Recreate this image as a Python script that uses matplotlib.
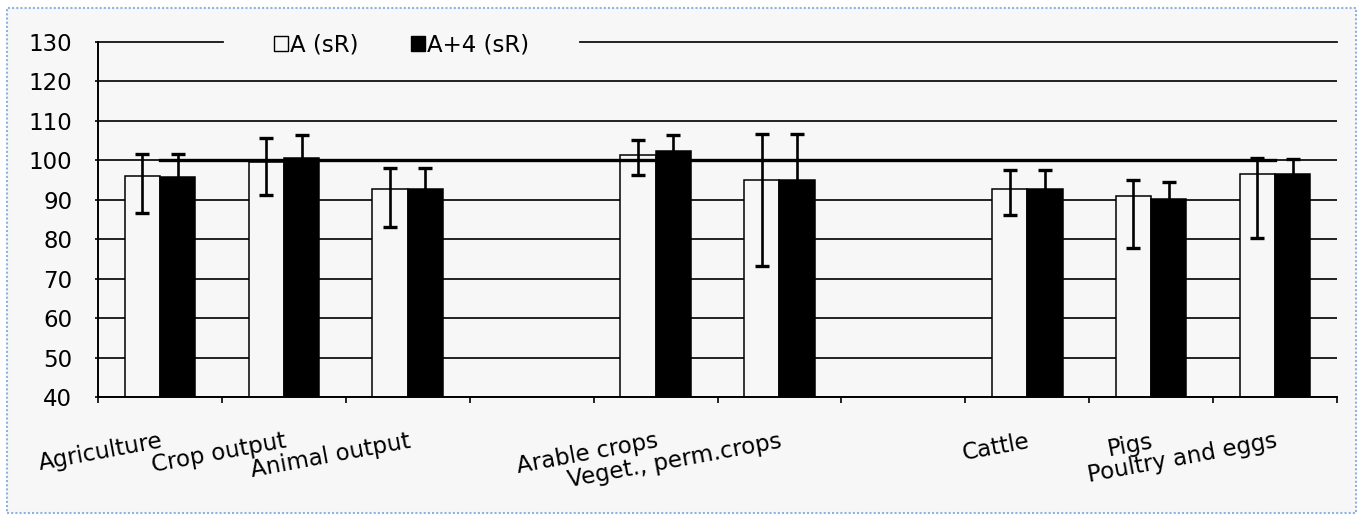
import numpy as np
import matplotlib
matplotlib.use("Agg")
import matplotlib.pyplot as plt
from matplotlib.patches import Rectangle, Patch

# ---------------- data ----------------
categories = ["Agriculture", "Crop output", "Animal output", "",
              "Arable crops", "Veget., perm.crops", "",
              "Cattle", "Pigs", "Poultry and eggs"]
series_names = ["A (sR)", "A+4 (sR)"]
a_values = [96.0, 99.6, 92.8, np.nan, 101.3, 94.9, np.nan, 92.8, 90.9, 96.5]
a_low = [86.6, 91.3, 83.1, np.nan, 96.2, 73.2, np.nan, 86.1, 77.8, 80.2]
a_high = [101.7, 105.6, 98.0, np.nan, 105.1, 106.7, np.nan, 97.5, 95.1, 100.6]
a4_values = [95.9, 100.7, 92.8, np.nan, 102.4, 94.9, np.nan, 92.8, 90.3, 96.6]
a4_low = [86.6, 91.3, 83.1, np.nan, 96.2, 73.2, np.nan, 86.1, 77.8, 80.2]
a4_high = [101.5, 106.3, 98.0, np.nan, 106.3, 106.7, np.nan, 97.5, 94.5, 100.4]
reference = [100, 100, 100, 100, 100, 100, 100, 100, 100, 100]
y_ticks = [40, 50, 60, 70, 80, 90, 100, 110, 120, 130]

# ---------------- style ----------------
BG = "#f7f7f7"
FONT = 16.5
plt.rcParams["font.family"] = ["DejaVu Sans"]
plt.rcParams["font.size"] = FONT

W, H = 1361, 520
fig = plt.figure(figsize=(W / 100, H / 100), dpi=100, facecolor="white")

# dotted light-blue frame of the screenshot
frame = Rectangle((7 / W, 1 - 513 / H), (1356 - 7) / W, (513 - 8) / H,
                  transform=fig.transFigure, facecolor=BG, edgecolor="#8db3e2",
                  linestyle=(0, (1, 1)), linewidth=1.5, zorder=0)
fig.add_artist(frame)

AX_L, AX_R = 98, 1337
ax = fig.add_axes([AX_L / W, 1 - 397 / H, (AX_R - AX_L) / W, (397 - 42) / H])
ax.set_facecolor("none")

x = np.arange(len(categories))
a = np.array(a_values)
a4 = np.array(a4_values)
width = 0.285

mask = ~np.isnan(a)
ax.bar(x[mask] - width / 2, a[mask], width, color=BG,
       edgecolor="black", linewidth=1.1, zorder=2, label=series_names[0])
ax.bar(x[mask] + width / 2, a4[mask], width, color="black",
       edgecolor="black", linewidth=1.1, zorder=2, label=series_names[1])

# reference line at 100 (drawn over bars)
ax.plot(x, reference, color="black", linewidth=2.4, zorder=3)

# error bars
al = np.array(a_low); ah = np.array(a_high)
bl = np.array(a4_low); bh = np.array(a4_high)
ax.errorbar(x[mask] - width / 2, a[mask],
            yerr=[a[mask] - al[mask], ah[mask] - a[mask]],
            fmt="none", ecolor="black", elinewidth=1.9, capsize=5.0,
            capthick=2.4, zorder=4)
ax.errorbar(x[mask] + width / 2, a4[mask],
            yerr=[a4[mask] - bl[mask], bh[mask] - a4[mask]],
            fmt="none", ecolor="black", elinewidth=1.9, capsize=5.0,
            capthick=2.4, zorder=4)

# axes
ax.set_xlim(-0.5, len(categories) - 0.5)
ax.set_ylim(40, 130)
ax.set_yticks(y_ticks)
GRID_KW = dict(color="#111111", linewidth=1.3)
ax.yaxis.grid(True, **GRID_KW)
ax.set_axisbelow(True)
# top gridline is interrupted by the legend
ax.get_ygridlines()[-1].set_visible(False)
for xmin, xmax in [(0, (223 - AX_L) / (AX_R - AX_L)), ((580 - AX_L) / (AX_R - AX_L), 1)]:
    ax.axhline(y_ticks[-1], xmin=xmin, xmax=xmax, zorder=0.5, clip_on=False, **GRID_KW)

for s in ["top", "right"]:
    ax.spines[s].set_visible(False)
for s in ["left", "bottom"]:
    ax.spines[s].set_color("black")
    ax.spines[s].set_linewidth(1.4)
    ax.spines[s].set_zorder(5)

ax.tick_params(axis="y", length=2.5, width=1.2, pad=16, labelsize=FONT)
ax.set_xticks(np.arange(-0.5, len(categories), 1.0))
ax.set_xticklabels([])
ax.tick_params(axis="x", which="major", length=4.5, width=1.2, direction="out")
ax.set_xticks(x, minor=True)
ax.set_xticklabels(categories, minor=True, rotation=10.5, ha="right", va="top",
                   rotation_mode="anchor", fontsize=FONT)
ax.tick_params(axis="x", which="minor", length=0, pad=23.5)

# legend
handles = [Patch(facecolor=BG, edgecolor="black", linewidth=1.0),
           Patch(facecolor="black", edgecolor="black", linewidth=1.0)]
leg = ax.legend(handles, series_names, ncol=2, loc="center",
                bbox_to_anchor=((401.5 - AX_L) / (AX_R - AX_L), (397 - 45) / (397 - 42)),
                frameon=False, borderpad=0.3, handlelength=0.6,
                handleheight=0.6, handletextpad=0.1, columnspacing=2.3,
                fontsize=FONT)
leg.set_zorder(6)

fig.savefig("out.png", dpi=100, facecolor="white")
